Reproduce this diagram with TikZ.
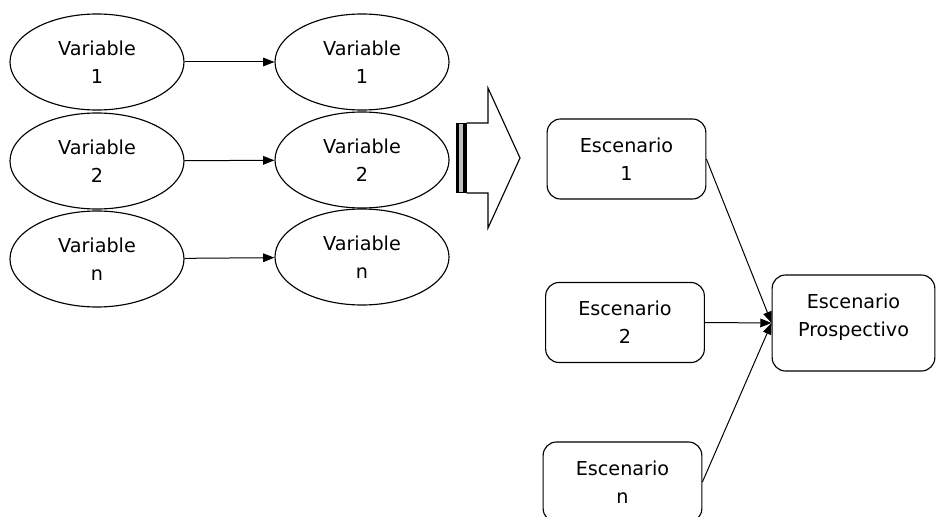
\documentclass[tikz,border=0pt]{standalone}
\usepackage{fontspec}
\setmainfont{DejaVu Sans}
\usepackage{tikz}
\usetikzlibrary{shapes.geometric, arrows.meta}

\begin{document}
\begin{tikzpicture}[x=0.75pt, y=-0.75pt,
    every node/.style={font=\fontsize{14.4}{21}\selectfont, align=center},
    varnode/.style={draw, ellipse, line width=0.85pt, inner sep=0pt,
      minimum width=130.5pt, minimum height=72pt},
    escbox/.style={draw, rounded corners=10pt, line width=0.85pt,
      minimum width=119pt, minimum height=60pt},
    flecha/.style={line width=0.75pt, -{Triangle[length=8.5pt,width=6.5pt]}}]
  \useasboundingbox (0,0) rectangle (936,517);
  \clip (0,0) rectangle (936,517);

  \node[varnode] (var1) at (97,62)  {Variable\\1};
  \node[varnode] (var2) at (97,161) {Variable\\2};
  \node[varnode] (varn) at (97,259) {Variable\\n};

  \node[varnode] (res1) at (362,62)  {Variable\\1};
  \node[varnode] (res2) at (362,160) {Variable\\2};
  \node[varnode] (resn) at (362,257) {Variable\\n};

  \draw[flecha] (var1) -- (res1);
  \draw[flecha] (var2) -- (res2);
  \draw[flecha] (varn) -- (resn);

  \begin{scope}[line width=0.85pt]
    \draw[fill=white] (466.7,123) -- (488,123) -- (488,88) -- (520,158)
      -- (488,228) -- (488,193) -- (466.7,193);
    \fill[black] (455.7,123) rectangle (466.7,193);
    \fill[gray!50] (459,124) rectangle (463.3,192);
  \end{scope}

  \node[escbox] (esc1) at (626.5,159) {Escenario\\1};
  \node[escbox] (esc2) at (625,322.5) {Escenario\\2};
  \node[escbox] (escn) at (622.5,482) {Escenario\\n};
  \node[escbox, minimum width=122pt, minimum height=72pt, text depth=11pt]
    (prosp) at (853.5,323) {Escenario\\Prospectivo};

  \draw[flecha] (esc1.east) -- (prosp.west);
  \draw[flecha] (esc2.east) -- (prosp.west);
  \draw[flecha] (escn.east) -- (prosp.west);
\end{tikzpicture}
\end{document}
